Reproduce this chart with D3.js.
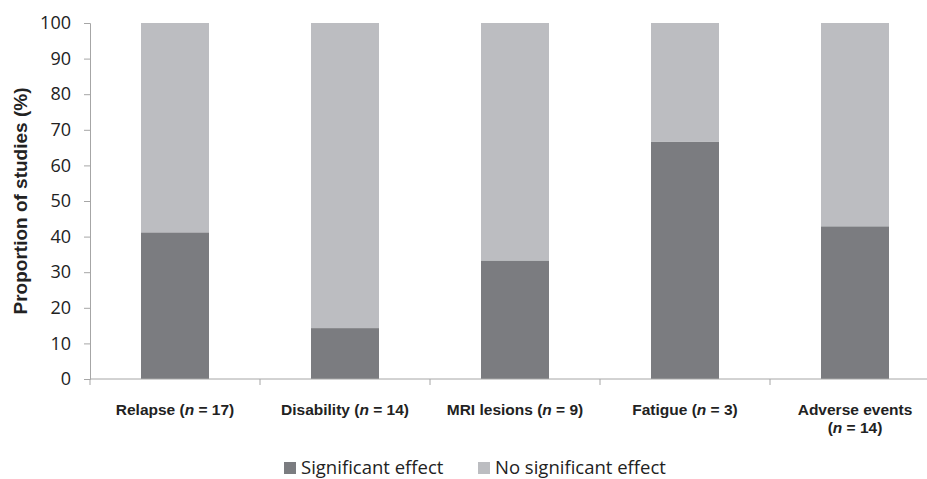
<!DOCTYPE html>
<html><head><meta charset="utf-8">
<script src="https://cdn.jsdelivr.net/npm/d3@7"></script>
<style>body{margin:0;background:#fff}</style>
</head><body><svg id="c" width="927" height="479"></svg>
<script>
const categories = ["Relapse", "Disability", "MRI lesions", "Fatigue", "Adverse events"];
const nCounts = [17, 14, 9, 3, 14];
const significant = [41.2, 14.3, 33.3, 66.7, 42.9];
const notSignificant = [58.8, 85.7, 66.7, 33.3, 57.1];
const yTicks = [0, 10, 20, 30, 40, 50, 60, 70, 80, 90, 100];
const seriesNames = ["Significant effect", "No significant effect"];
const colors = ["#7b7c80", "#bcbdc1"];

const svg = d3.select("#c");
const x = d3.scaleBand().domain(categories).range([90, 940]).paddingInner(0.6).paddingOuter(0.3);
const xb = d3.scaleBand().domain(categories).range([90, 940]);
const y = d3.scaleLinear().domain([0, 100]).range([379, 23]);

const stackData = categories.map((c, i) => ({cat: c, s: significant[i], ns: notSignificant[i]}));
const stack = d3.stack().keys(["s", "ns"])(stackData);
stack.forEach((layer, li) => {
  svg.append("g").selectAll("rect").data(layer).join("rect")
    .attr("x", d => x(d.data.cat))
    .attr("width", x.bandwidth())
    .attr("y", d => y(d[1]))
    .attr("height", d => y(d[0]) - y(d[1]))
    .attr("fill", colors[li]);
});

// y axis
const ya = svg.append("g").attr("transform", "translate(90,0)")
  .call(d3.axisLeft(y).tickValues(yTicks).tickSize(6).tickPadding(13));
ya.select(".domain").attr("stroke", "#a6a6a6");
ya.selectAll(".tick line").attr("stroke", "#a6a6a6");
ya.selectAll(".tick text").attr("font-family", "Open Sans, sans-serif").attr("font-size", 18).attr("fill", "#222");

// x baseline with boundary ticks
svg.append("line").attr("x1", 90).attr("x2", 927).attr("y1", 379).attr("y2", 379).attr("stroke", "#a6a6a6");
svg.append("g").selectAll("line").data(categories.concat(["end"])).join("line")
  .attr("x1", (d, i) => 90 + i * xb.bandwidth())
  .attr("x2", (d, i) => 90 + i * xb.bandwidth())
  .attr("y1", 379).attr("y2", 385).attr("stroke", "#a6a6a6");

// category labels
const lab = svg.append("g").attr("font-family", "Liberation Sans, Arial, sans-serif")
  .attr("font-size", 15.5).attr("font-weight", "bold").attr("fill", "#222").attr("text-anchor", "middle");
categories.forEach((c, i) => {
  const cx = xb(c) + xb.bandwidth() / 2;
  if (c === "Adverse events") {
    lab.append("text").attr("x", cx).attr("y", 415).text(c);
    const t = lab.append("text").attr("x", cx).attr("y", 433);
    t.append("tspan").text("(");
    t.append("tspan").attr("font-style", "italic").text("n");
    t.append("tspan").text(" = " + nCounts[i] + ")");
  } else {
    const t = lab.append("text").attr("x", cx).attr("y", 415);
    t.append("tspan").text(c + " (");
    t.append("tspan").attr("font-style", "italic").text("n");
    t.append("tspan").text(" = " + nCounts[i] + ")");
  }
});

// y title
svg.append("text").attr("transform", "translate(27,201) rotate(-90)")
  .attr("text-anchor", "middle").attr("font-family", "Liberation Sans, Arial, sans-serif")
  .attr("font-size", 19).attr("font-weight", "bold").attr("fill", "#222")
  .text("Proportion of studies (%)");

// legend
const legX = [284, 478];
seriesNames.forEach((n, i) => {
  svg.append("rect").attr("x", legX[i]).attr("y", 462).attr("width", 12).attr("height", 12).attr("fill", colors[i]);
  svg.append("text").attr("x", legX[i] + 17).attr("y", 473.5)
    .attr("font-family", "Open Sans, sans-serif").attr("font-size", 18.5).attr("fill", "#222").text(n);
});
</script></body></html>
